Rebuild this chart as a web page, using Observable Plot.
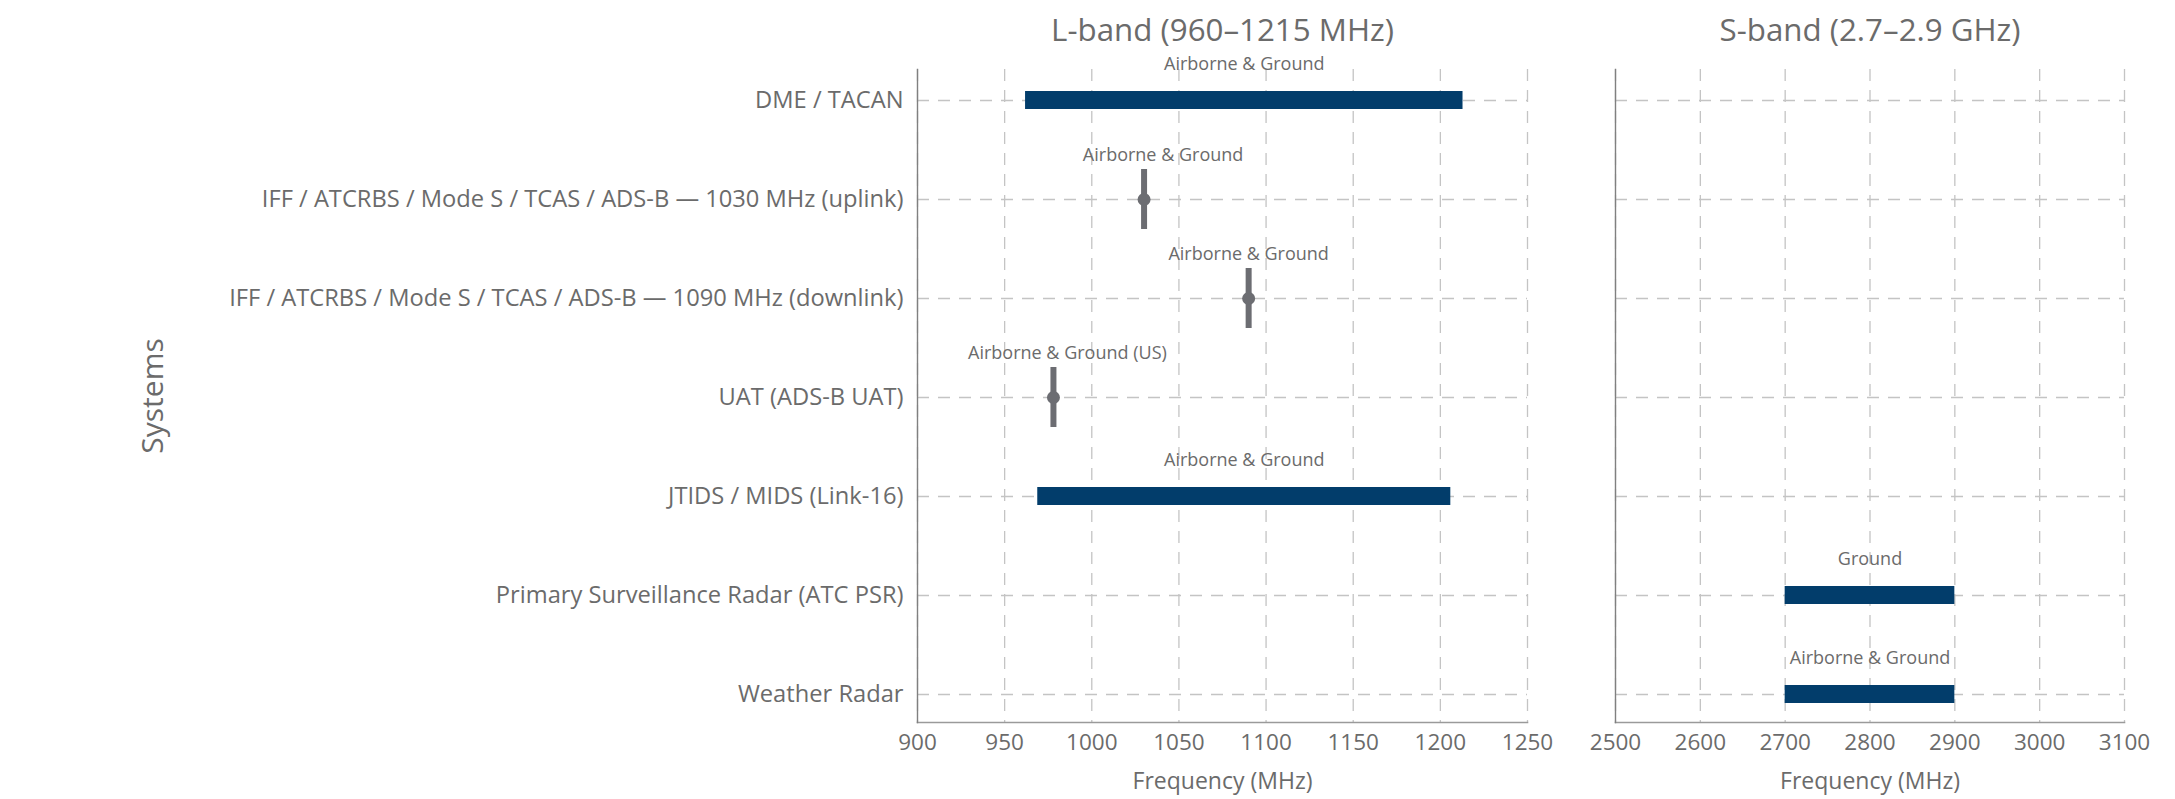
<!DOCTYPE html>
<html>
<head>
<meta charset="utf-8">
<script src="https://cdn.jsdelivr.net/npm/d3@7"></script>
<script src="https://cdn.jsdelivr.net/npm/@observablehq/plot@0.6"></script>
<style>
  html, body { margin: 0; padding: 0; background: #fff; }
  #wrap { display: flex; flex-direction: row; width: 2175px; height: 799px; overflow: hidden; }
  #wrap svg { display: block; }
</style>
</head>
<body>
<div id="wrap"></div>
<script>
// ---- Data ----
const systems = [
  "DME / TACAN",
  "IFF / ATCRBS / Mode S / TCAS / ADS-B — 1030 MHz (uplink)",
  "IFF / ATCRBS / Mode S / TCAS / ADS-B — 1090 MHz (downlink)",
  "UAT (ADS-B UAT)",
  "JTIDS / MIDS (Link-16)",
  "Primary Surveillance Radar (ATC PSR)",
  "Weather Radar"
];

// frequency ranges (bars)
const rangeSystems = ["DME / TACAN", "JTIDS / MIDS (Link-16)", "Primary Surveillance Radar (ATC PSR)", "Weather Radar"];
const rangeLow  = [962, 969, 2700, 2700];
const rangeHigh = [1213, 1206, 2900, 2900];
const rangeUse  = ["Airborne & Ground", "Airborne & Ground", "Ground", "Airborne & Ground"];
const rangeBand = ["L", "L", "S", "S"];

// single frequencies (markers)
const pointSystems = [
  "IFF / ATCRBS / Mode S / TCAS / ADS-B — 1030 MHz (uplink)",
  "IFF / ATCRBS / Mode S / TCAS / ADS-B — 1090 MHz (downlink)",
  "UAT (ADS-B UAT)"
];
const pointFreq = [1030, 1090, 978];
const pointUse  = ["Airborne & Ground", "Airborne & Ground", "Airborne & Ground (US)"];
const pointBand = ["L", "L", "L"];

const lTicks = [900, 950, 1000, 1050, 1100, 1150, 1200, 1250];
const sTicks = [2500, 2600, 2700, 2800, 2900, 3000, 3100];

const panelTitles = { L: "L-band (960–1215 MHz)", S: "S-band (2.7–2.9 GHz)" };
const xTitle = "Frequency (MHz)";
const yTitle = "Systems";

// ---- Build rows ----
const ranges = rangeSystems.map((s, i) => ({ system: s, lo: rangeLow[i], hi: rangeHigh[i], use: rangeUse[i], band: rangeBand[i] }));
const points = pointSystems.map((s, i) => ({ system: s, f: pointFreq[i], use: pointUse[i], band: pointBand[i] }));

const textColor = "#6b6b6b";
const barColor = "#023d6b";
const markColor = "#6c6d72";
const gridStyle = { stroke: "#c4c4c4", strokeOpacity: 1, strokeWidth: 1.3, strokeDasharray: "12,9" };
// label nudges (styling) for marker annotations, by row index in pointSystems
const markerLabelNudge = [19, 0, 14];

function panel({ band, ticks, width, marginLeft, marginRight, showY }) {
  const bars = ranges.filter(d => d.band === band);
  const pts = points.filter(d => d.band === band);
  const nudges = [...new Set(markerLabelNudge)];
  return Plot.plot({
    width, height: 799,
    marginLeft, marginRight, marginTop: 69, marginBottom: 77,
    style: { fontFamily: "'Open Sans', sans-serif", color: textColor, background: "white", overflow: "visible" },
    x: { domain: [ticks[0], ticks[ticks.length - 1]], label: null },
    y: { type: "band", domain: systems, paddingInner: 0.435, paddingOuter: 0, insetTop: 2, label: null },
    marks: [
      Plot.gridX(ticks, gridStyle),
      Plot.gridY(systems, gridStyle),
      Plot.axisX(ticks, { tickSize: 0, tickPadding: 12, fontSize: 22.5, tickFormat: d => String(d), label: null, fill: textColor }),
      showY
        ? Plot.axisY({ tickSize: 0, tickPadding: 14, fontSize: 23.7, label: null, fill: textColor })
        : Plot.axisY({ tickSize: 0, tickFormat: () => "", label: null }),
      Plot.frame({ anchor: "bottom", stroke: "#9a9a9a", strokeWidth: 1.6 }),
      Plot.frame({ anchor: "left", stroke: "#808080", strokeWidth: 1.4 }),
      Plot.barX(bars, { x1: "lo", x2: "hi", y: "system", fill: barColor, insetTop: 19, insetBottom: 19 }),
      Plot.tickX(pts, { x: "f", y: "system", stroke: markColor, strokeWidth: 6, insetTop: -2, insetBottom: -2 }),
      Plot.dot(pts, { x: "f", y: "system", r: 6.5, fill: markColor }),
      Plot.text(bars, { x: d => (d.lo + d.hi) / 2, y: "system", text: "use", dy: -36, fontSize: 18, fill: textColor }),
      ...nudges.map(n => Plot.text(
        pts.filter(d => markerLabelNudge[pointSystems.indexOf(d.system)] === n),
        { x: "f", y: "system", text: "use", dy: -44, dx: n, fontSize: 18, fill: textColor }
      )),
      Plot.text([panelTitles[band]], { frameAnchor: "top", dy: -51, fontSize: 31.3, fill: textColor }),
      Plot.text([xTitle], { frameAnchor: "bottom", dy: 66, fontSize: 23, fill: textColor }),
      showY
        ? Plot.text([yTitle], { frameAnchor: "left", dx: -764, rotate: -90, textAnchor: "middle", fontSize: 30, fill: textColor })
        : null
    ]
  });
}

const wrap = document.getElementById("wrap");
wrap.appendChild(panel({ band: "L", ticks: lTicks, width: 1570, marginLeft: 917, marginRight: 43, showY: true }));
wrap.appendChild(panel({ band: "S", ticks: sTicks, width: 605, marginLeft: 45, marginRight: 51, showY: false }));
</script>
</body>
</html>
